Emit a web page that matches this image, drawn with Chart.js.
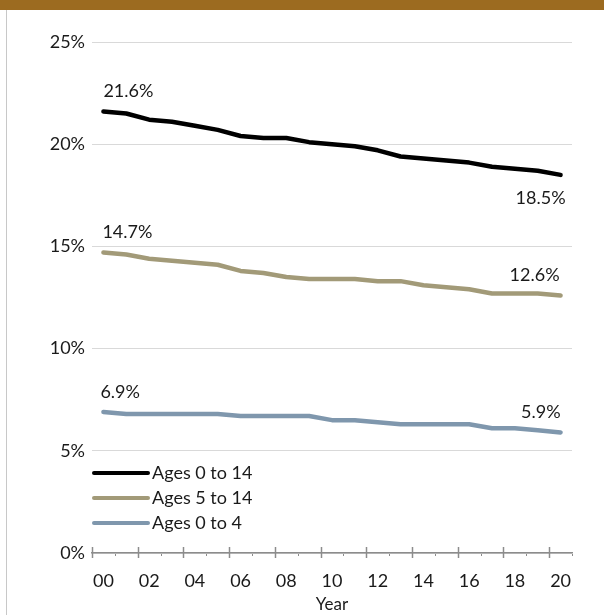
<!DOCTYPE html>
<html lang="en">
<head>
<meta charset="UTF-8">
<title>Share of population by age group</title>
<style>
  html, body { margin: 0; padding: 0; background: #fff; }
  body { width: 604px; height: 615px; position: relative; overflow: hidden; }
  .banner { position: absolute; left: 0; top: 0; width: 604px; height: 10px; background: #9c6b20; }
  .frame { position: absolute; left: 6px; top: 10px; height: 605px; border-left: 1px solid #c8c8c8; }
  #chart { position: absolute; left: 0; top: 0; }
</style>
</head>
<body>
<div class="banner"></div>
<div class="frame"></div>
<canvas id="chart" width="604" height="615"></canvas>

<script src="https://cdn.jsdelivr.net/npm/chart.js@4.4.0/dist/chart.umd.min.js"></script>
<script>
// values
const years = ['00', '01', '02', '03', '04', '05', '06', '07', '08', '09', '10',
               '11', '12', '13', '14', '15', '16', '17', '18', '19', '20'];
const ages0to14 = [21.6, 21.5, 21.2, 21.1, 20.9, 20.7, 20.4, 20.3, 20.3, 20.1, 20.0,
                   19.9, 19.7, 19.4, 19.3, 19.2, 19.1, 18.9, 18.8, 18.7, 18.5];
const ages5to14 = [14.7, 14.6, 14.4, 14.3, 14.2, 14.1, 13.8, 13.7, 13.5, 13.4, 13.4,
                   13.4, 13.3, 13.3, 13.1, 13.0, 12.9, 12.7, 12.7, 12.7, 12.6];
const ages0to4 = [6.9, 6.8, 6.8, 6.8, 6.8, 6.8, 6.7, 6.7, 6.7, 6.7, 6.5,
                  6.5, 6.4, 6.3, 6.3, 6.3, 6.3, 6.1, 6.1, 6.0, 5.9];
const yTicks = [0, 5, 10, 15, 20, 25];

const FONT = 'Lato, "Open Sans", sans-serif';
const TEXT = '#1a1a1a';

// first / last value labels, like the Excel data labels
const endLabels = {
  id: 'endLabels',
  afterDatasetsDraw(chart) {
    const ctx = chart.ctx;
    ctx.save();
    ctx.font = '18px ' + FONT;
    ctx.fillStyle = TEXT;
    ctx.textBaseline = 'middle';
    chart.data.datasets.forEach((ds, i) => {
      const pts = chart.getDatasetMeta(i).data;
      const first = pts[0], last = pts[pts.length - 1];
      ctx.textAlign = 'left';
      ctx.fillText(ds.data[0].toFixed(1) + '%', first.x + ds.firstDx, first.y - 20);
      ctx.textAlign = 'right';
      const dy = ds.lastBelow ? 23 : -20;
      ctx.fillText(ds.data[ds.data.length - 1].toFixed(1) + '%', last.x + ds.lastDx, last.y + dy);
    });
    ctx.restore();
  }
};

// Excel style tick marks crossing the category axis
const crossTicks = {
  id: 'crossTicks',
  afterDraw(chart) {
    const x = chart.scales.x;
    const ctx = chart.ctx;
    const half = (x.getPixelForValue(1) - x.getPixelForValue(0)) / 2;
    const y0 = x.top;
    ctx.save();
    ctx.strokeStyle = '#8c8c8c';
    for (let i = 0; i <= years.length; i++) {
      const px = Math.round(x.getPixelForValue(i) - half) + 0.5;
      ctx.beginPath();
      if (i % 2 === 0) {
        ctx.lineWidth = 1.5;
        ctx.moveTo(px, y0 - 6);
        ctx.lineTo(px, y0 + 5);
      } else {
        ctx.lineWidth = 1;
        ctx.moveTo(px, y0 + 1);
        ctx.lineTo(px, y0 + 3);
      }
      ctx.stroke();
    }
    ctx.restore();
  }
};

// legend sitting inside the plot, lower left
const innerLegend = {
  id: 'innerLegend',
  afterDraw(chart) {
    const ctx = chart.ctx;
    const area = chart.chartArea;
    ctx.save();
    ctx.font = '18px ' + FONT;
    ctx.textBaseline = 'middle';
    ctx.textAlign = 'left';
    chart.data.datasets.forEach((ds, i) => {
      const y = area.bottom - 80 + i * 25;
      ctx.strokeStyle = ds.borderColor;
      ctx.lineWidth = 4;
      ctx.lineCap = 'round';
      ctx.beginPath();
      ctx.moveTo(area.left + 2, y);
      ctx.lineTo(area.left + 56, y);
      ctx.stroke();
      ctx.fillStyle = TEXT;
      ctx.fillText(ds.label, area.left + 60, y);
    });
    ctx.restore();
  }
};

const ctx = document.getElementById('chart').getContext('2d');
const chart = new Chart(ctx, {
  type: 'line',
  data: {
    labels: years,
    datasets: [
      { label: 'Ages 0 to 14', data: ages0to14, borderColor: '#000000', lastBelow: true, firstDx: 0, lastDx: 5 },
      { label: 'Ages 5 to 14', data: ages5to14, borderColor: '#a29a78', firstDx: -1, lastDx: -1 },
      { label: 'Ages 0 to 4', data: ages0to4, borderColor: '#7f97ad', firstDx: -3, lastDx: 0 }
    ]
  },
  options: {
    responsive: false,
    animation: false,
    devicePixelRatio: 1,
    layout: { padding: { top: 42, right: 32, left: 0, bottom: 0 } },
    elements: {
      line: { borderWidth: 4.5, tension: 0, borderCapStyle: 'round', borderJoinStyle: 'round' },
      point: { radius: 0 }
    },
    scales: {
      x: {
        type: 'category',
        offset: true,
        afterFit: (scale) => { scale.height = 62; },
        grid: { display: false, drawTicks: false },
        border: { display: true, color: '#8c8c8c', width: 1.5 },
        ticks: {
          autoSkip: false,
          maxRotation: 0,
          padding: 17,
          color: TEXT,
          font: { family: FONT, size: 18 },
          callback: (v, i) => (i % 2 === 0 ? years[i] : '')
        },
        title: {
          display: true,
          text: 'Year',
          color: TEXT,
          font: { family: FONT, size: 17 },
          padding: { top: 0, bottom: 0 }
        }
      },
      y: {
        min: 0,
        max: 25,
        afterFit: (scale) => { scale.width = 92; },
        afterBuildTicks: (scale) => { scale.ticks = yTicks.map(v => ({ value: v })); },
        grid: { color: '#d9d9d9', lineWidth: 1, drawTicks: false },
        border: { display: false },
        ticks: {
          padding: 7,
          color: TEXT,
          font: { family: FONT, size: 18 },
          callback: (v) => v + '%'
        }
      }
    },
    plugins: {
      legend: { display: false },
      tooltip: { enabled: false }
    }
  },
  plugins: [endLabels, crossTicks, innerLegend]
});
</script>
</body>
</html>
